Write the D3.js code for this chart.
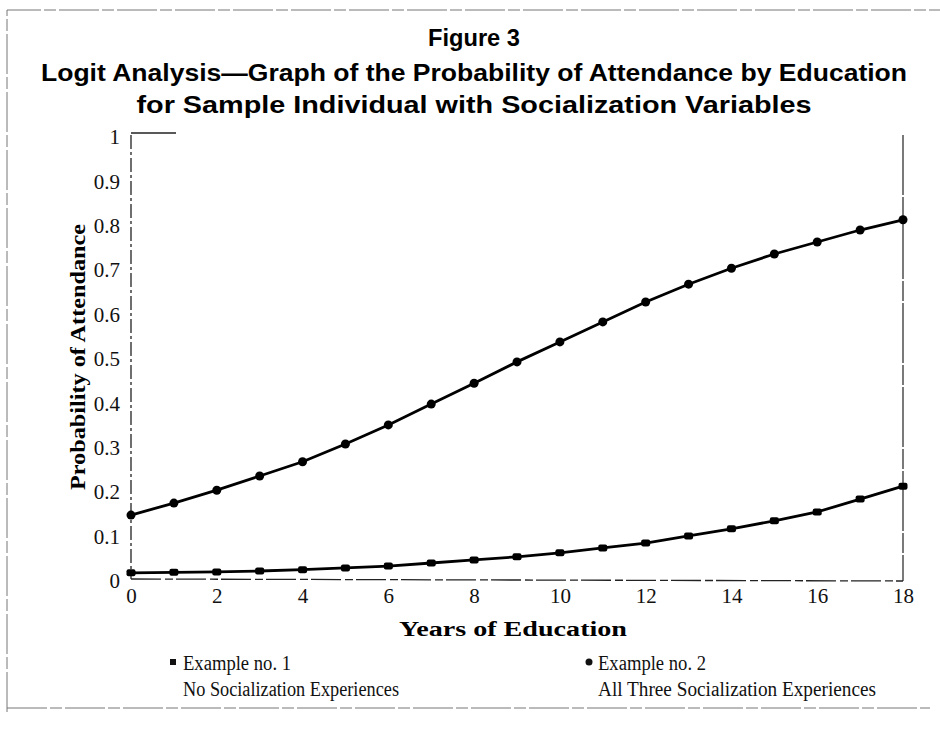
<!DOCTYPE html>
<html>
<head>
<meta charset="utf-8">
<script src="https://cdn.jsdelivr.net/npm/d3@7/dist/d3.min.js"></script>
<style>
  body { margin: 0; background: #fff; }
</style>
</head>
<body>
<div id="chart"></div>
<script>
// years of education on the x axis
const years = [0, 1, 2, 3, 4, 5, 6, 7, 8, 9, 10, 11, 12, 13, 14, 15, 16, 17, 18];

// Example no. 1 - no socialization experiences
const exampleOne = [0.014, 0.015, 0.016, 0.018, 0.021, 0.025, 0.029, 0.036, 0.043, 0.050,
  0.059, 0.070, 0.081, 0.097, 0.113, 0.131, 0.151, 0.180, 0.209];

// Example no. 2 - all three socialization experiences
const exampleTwo = [0.144, 0.171, 0.200, 0.232, 0.264, 0.304, 0.347, 0.394, 0.441, 0.489,
  0.534, 0.579, 0.624, 0.664, 0.700, 0.732, 0.759, 0.786, 0.809];

const xTicks = [0, 2, 4, 6, 8, 10, 12, 14, 16, 18];
const yTicks = [0, 0.1, 0.2, 0.3, 0.4, 0.5, 0.6, 0.7, 0.8, 0.9, 1];

const titleLines = [
  'Figure 3',
  'Logit Analysis\u2014Graph of the Probability of Attendance by Education',
  'for Sample Individual with Socialization Variables'
];

const svgWidth = 940;
const svgHeight = 730;

const margin = {
  top: 135,
  right: 37,
  bottom: 151,
  left: 131
};

const width = svgWidth - margin.left - margin.right;
const height = svgHeight - margin.top - margin.bottom;

const svg = d3.select('#chart')
  .append('svg')
  .attr('width', svgWidth)
  .attr('height', svgHeight);

const sans = '"Liberation Sans", Arial, sans-serif';
const serif = '"Liberation Serif", "Times New Roman", serif';

// page border left from the scan
svg.append('path')
  .attr('d', 'M7,712 L7,10 L940,10 M7,708 L930,708')
  .attr('fill', 'none')
  .attr('stroke', '#777')
  .attr('stroke-width', 1)
  .attr('stroke-dasharray', '40,3,12,3');

// titles (condensed, as in the scan)
const titleY = [38, 73, 105];
const titleLen = [92, 866, 675];
titleLines.forEach((t, i) => {
  svg.append('text')
    .attr('x', 474)
    .attr('y', titleY[i])
    .attr('dy', '0.35em')
    .attr('text-anchor', 'middle')
    .attr('textLength', titleLen[i])
    .attr('lengthAdjust', 'spacingAndGlyphs')
    .style('font-family', sans)
    .style('font-weight', 'bold')
    .style('font-size', '23px')
    .text(t);
});

const chartGroup = svg.append('g')
  .attr('transform', `translate(${margin.left}, ${margin.top})`);

const xScale = d3.scaleLinear()
  .domain([0, 18])
  .range([0, width]);

const yScale = d3.scaleLinear()
  .domain([0, 1])
  .range([height, 0]);

// frame: dashed left and bottom, solid right, short top stub
chartGroup.append('line')
  .attr('x1', 0).attr('x2', 0)
  .attr('y1', 0).attr('y2', height)
  .attr('stroke', '#222')
  .attr('stroke-width', 1.3)
  .attr('stroke-dasharray', '14,3,3,3');

chartGroup.append('line')
  .attr('x1', 0).attr('x2', width)
  .attr('y1', height).attr('y2', height + 2)
  .attr('stroke', '#222')
  .attr('stroke-width', 1.3)
  .attr('stroke-dasharray', '30,4,8,3');

chartGroup.append('line')
  .attr('x1', width).attr('x2', width)
  .attr('y1', 0).attr('y2', height + 2)
  .attr('stroke', '#222')
  .attr('stroke-width', 1.2)
  .attr('stroke-dasharray', '60,2,20,2');

chartGroup.append('line')
  .attr('x1', 0).attr('x2', 45)
  .attr('y1', -2).attr('y2', -2)
  .attr('stroke', '#222')
  .attr('stroke-width', 1.3);

// axes (labels only, the scanned chart has no tick marks)
const xAxis = chartGroup.append('g')
  .attr('transform', `translate(0, ${height + 6})`)
  .call(d3.axisBottom(xScale).tickValues(xTicks).tickSize(0).tickFormat(d3.format('d')));

const yAxis = chartGroup.append('g')
  .attr('transform', 'translate(-8, 2)')
  .call(d3.axisLeft(yScale).tickValues(yTicks).tickSize(0).tickFormat(d => d === 0 || d === 1 ? d : d3.format('.1f')(d)));

[xAxis, yAxis].forEach(a => {
  a.select('.domain').remove();
  a.selectAll('text')
    .style('font-family', serif)
    .style('font-size', '21px')
    .attr('fill', '#111');
});

chartGroup.append('text')
  .attr('x', width / 2 - 4)
  .attr('y', height + 57)
  .attr('text-anchor', 'middle')
  .attr('textLength', 228)
  .attr('lengthAdjust', 'spacingAndGlyphs')
  .style('font-family', serif)
  .style('font-weight', 'bold')
  .style('font-size', '20px')
  .text('Years of Education');

chartGroup.append('text')
  .attr('transform', `translate(-46, ${yScale(0.5)}) rotate(-90)`)
  .attr('text-anchor', 'middle')
  .attr('textLength', 266)
  .attr('lengthAdjust', 'spacingAndGlyphs')
  .style('font-family', serif)
  .style('font-weight', 'bold')
  .style('font-size', '20px')
  .text('Probability of Attendance');

// series lines and markers
const line = d3.line()
  .x((d, i) => xScale(years[i]))
  .y(d => yScale(d));

[exampleOne, exampleTwo].forEach(series => {
  chartGroup.append('path')
    .datum(series)
    .attr('fill', 'none')
    .attr('stroke', '#000')
    .attr('stroke-width', 2.8)
    .attr('d', line);
});

chartGroup.selectAll('.pt1')
  .data(exampleOne)
  .enter()
  .append('rect')
  .attr('class', 'pt1')
  .attr('x', (d, i) => xScale(years[i]) - 4.5)
  .attr('y', d => yScale(d) - 3.5)
  .attr('width', 9)
  .attr('height', 7)
  .attr('rx', 2)
  .attr('fill', '#000');

chartGroup.selectAll('.pt2')
  .data(exampleTwo)
  .enter()
  .append('circle')
  .attr('class', 'pt2')
  .attr('cx', (d, i) => xScale(years[i]))
  .attr('cy', d => yScale(d))
  .attr('r', 4.5)
  .attr('fill', '#000');

// legend
const legend = svg.append('g');

legend.append('rect')
  .attr('x', 170).attr('y', 659)
  .attr('width', 6).attr('height', 6)
  .attr('fill', '#111');

legend.append('circle')
  .attr('cx', 589).attr('cy', 662)
  .attr('r', 3.5)
  .attr('fill', '#111');

const legendText = [
  { x: 183, y: 663, t: 'Example no. 1', len: 108 },
  { x: 183, y: 689, t: 'No Socialization Experiences', len: 216 },
  { x: 598, y: 663, t: 'Example no. 2', len: 108 },
  { x: 598, y: 689, t: 'All Three Socialization Experiences', len: 278 }
];

legend.selectAll('text')
  .data(legendText)
  .enter()
  .append('text')
  .attr('x', d => d.x)
  .attr('y', d => d.y)
  .attr('dy', '0.35em')
  .attr('textLength', d => d.len)
  .attr('lengthAdjust', 'spacingAndGlyphs')
  .style('font-family', serif)
  .style('font-size', '20px')
  .attr('fill', '#111')
  .text(d => d.t);
</script>
</body>
</html>
